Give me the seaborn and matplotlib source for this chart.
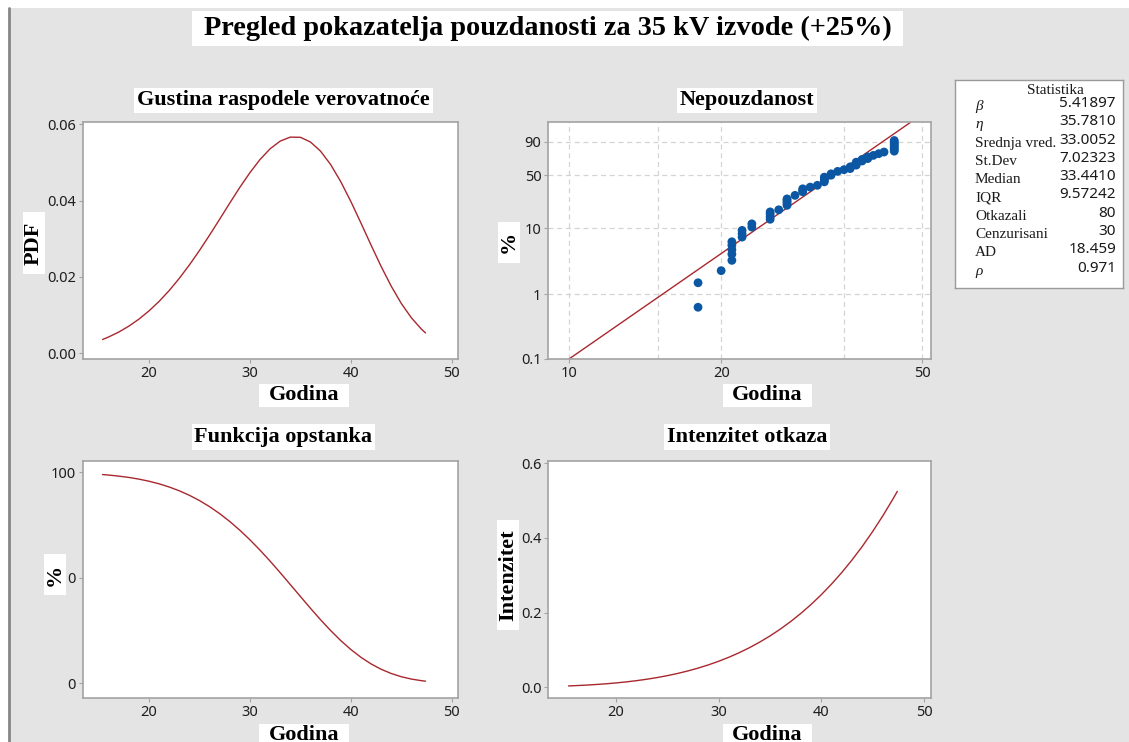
import functools

import numpy as np
import matplotlib
matplotlib.use("Agg")
import matplotlib.pyplot as plt
from matplotlib.path import Path
from matplotlib.lines import Line2D
from matplotlib.patches import Rectangle
from matplotlib.ticker import FixedLocator, NullFormatter, NullLocator
import seaborn as sns

# ---------------------------------------------------------------- data
fig_title = "Pregled pokazatelja pouzdanosti za 35 kV izvode (+25%)"
panel_titles = ["Gustina raspodele verovatnoće", "Nepouzdanost",
                "Funkcija opstanka", "Intenzitet otkaza"]
x_label = "Godina"
y_labels = ["PDF", "%", "%", "Intenzitet"]

# Weibull fit summary
stat_header = "Statistika"
stat_names = ["β", "η", "Srednja vred.", "St.Dev", "Median", "IQR",
              "Otkazali", "Cenzurisani", "AD", "ρ"]
stat_values = ["5.41897", "35.7810", "33.0052", "7.02323", "33.4410",
               "9.57242", "80", "30", "18.459", "0.971"]

# fitted curves (age in years)
years = [15.4, 16, 17, 18, 19, 20, 21, 22, 23, 24, 25, 26, 27, 28, 29, 30,
         31, 32, 33, 34, 35, 36, 37, 38, 39, 40, 41, 42, 43, 44, 45, 46, 47,
         47.4]
pdf_vals = [0.00361, 0.00427, 0.00555, 0.00710, 0.00894, 0.01110, 0.01359,
            0.01643, 0.01962, 0.02313, 0.02692, 0.03094, 0.03511, 0.03933,
            0.04345, 0.04731, 0.05075, 0.05356, 0.05557, 0.05662, 0.05657,
            0.05534, 0.05294, 0.04943, 0.04496, 0.03977, 0.03413, 0.02836,
            0.02276, 0.01759, 0.01305, 0.00929, 0.00631, 0.00533]
survival_pct = [98.97, 98.73, 98.24, 97.61, 96.81, 95.81, 94.58, 93.08,
                91.28, 89.15, 86.65, 83.76, 80.46, 76.73, 72.59, 68.05,
                63.14, 57.93, 52.46, 46.84, 41.19, 35.57, 30.15, 25.01,
                20.28, 16.04, 12.34, 9.22, 6.67, 4.66, 3.13, 2.02, 1.25, 1.02]
hazard_vals = [0.00365, 0.00432, 0.00565, 0.00728, 0.00924, 0.01159,
               0.01437, 0.01765, 0.02149, 0.02594, 0.03107, 0.03694,
               0.04363, 0.05125, 0.05985, 0.06952, 0.08037, 0.09245,
               0.10593, 0.12089, 0.13735, 0.15559, 0.17561, 0.19761,
               0.22167, 0.24789, 0.27650, 0.30757, 0.34120, 0.37769,
               0.41722, 0.45958, 0.50538, 0.52471]

# failures on Weibull probability paper
fail_years = [18, 18, 20, 21, 21, 21, 21, 21, 22, 22, 22, 23, 23,
              25, 25, 25, 25, 26, 27, 27, 27, 27, 27, 28, 29, 29, 29, 30,
              31, 32, 32, 32, 32, 33, 33, 34, 35, 36, 36, 37, 37, 37,
              38, 38, 39, 39, 40, 41, 42,
              44, 44, 44, 44, 44, 44, 44, 44]
fail_pct = [0.63, 1.5, 2.3, 3.3, 4.1, 4.8, 5.6, 6.3, 7.4, 8.3, 9.3, 10.4, 11.6,
            13.5, 14.7, 16.0, 17.2, 18.4, 21.2, 22.4, 23.6, 24.8, 25.9, 28.8,
            32.0, 33.4, 34.9, 36.6, 38.5, 42.3, 44.2, 46.0, 47.8, 50.2, 51.9,
            55.0, 57.2, 58.6, 60.9, 63.1, 65.0, 67.0, 68.5, 70.5, 71.6, 73.8,
            75.6, 77.7, 79.6,
            80.6, 82.3, 84.0, 85.6, 87.1, 88.5, 89.8, 90.9]
fit_years = [10.0, 47.4]
fit_pct = [0.1, 98.98]

# axis ticks
age_ticks = [20, 30, 40, 50]
pdf_ticks = [0.00, 0.02, 0.04, 0.06]
pdf_tick_labels = ["0.00", "0.02", "0.04", "0.06"]
surv_ticks = [0, 50, 100]
surv_tick_labels = ["0", "0", "100"]
hazard_ticks = [0.0, 0.2, 0.4, 0.6]
hazard_tick_labels = ["0.0", "0.2", "0.4", "0.6"]
prob_x_ticks = [10, 20, 50]
prob_x_minor = [15, 35]
prob_y_ticks = [0.1, 1, 10, 50, 90]
prob_y_tick_labels = ["0.1", "1", "10", "50", "90"]

# ---------------------------------------------------------------- style
sns.set_theme(style="white")
plt.rcParams["font.family"] = ["Noto Sans", "DejaVu Sans"]
plt.rcParams["axes.unicode_minus"] = False

BG = "#e4e4e4"
CURVE = "#a8282e"
DOTS = "#0b57a4"
SPINE = "#a3a3a3"
TICK_TXT = "#1e1e1e"
SERIF = ["Liberation Serif", "DejaVu Serif"]


def wide_box(x0, y0, width, height, mutation_size, padx=0.45, pady=0.08):
    """Rectangle with more room along the text than across it."""
    px, py = padx * mutation_size, pady * mutation_size
    x0, y0 = x0 - px, y0 - py
    x1, y1 = x0 + width + 2 * px, y0 + height + 2 * py
    return Path([(x0, y0), (x1, y0), (x1, y1), (x0, y1), (x0, y0)],
                closed=True)


label_box = dict(boxstyle=functools.partial(wide_box, padx=0.42, pady=0.06),
                 facecolor="white", edgecolor="none")
title_box = dict(boxstyle="square,pad=0.12", facecolor="white",
                 edgecolor="none")

W, H = 1129, 742
fig = plt.figure(figsize=(W / 100, H / 100), dpi=100, facecolor="white")

# grey panel background with a darker left border
fig.add_artist(Rectangle((10 / W, 0), 1 - 10 / W, 1 - 8 / H,
                         transform=fig.transFigure, facecolor=BG,
                         edgecolor="none", zorder=-10))
fig.add_artist(Line2D([9 / W, 9 / W], [0, 1 - 8 / H],
                      transform=fig.transFigure, color="#868686", lw=2,
                      zorder=-9))


def px_axes(left, top, right, bottom):
    return fig.add_axes([left / W, 1 - bottom / H, (right - left) / W,
                         (bottom - top) / H])


ax_pdf = px_axes(82.7, 122.3, 458.3, 359.0)
ax_cdf = px_axes(548.3, 122.3, 930.7, 359.0)
ax_sur = px_axes(82.7, 461.0, 458.3, 698.3)
ax_haz = px_axes(548.3, 461.0, 930.7, 698.3)
axes = [ax_pdf, ax_cdf, ax_sur, ax_haz]

# ---------------------------------------------------------------- curves
sns.lineplot(x=years, y=pdf_vals, ax=ax_pdf, color=CURVE, lw=1.0)
sns.lineplot(x=years, y=survival_pct, ax=ax_sur, color=CURVE, lw=1.0)
sns.lineplot(x=years, y=hazard_vals, ax=ax_haz, color=CURVE, lw=1.0)

for ax in (ax_pdf, ax_sur, ax_haz):
    ax.set_xlim(13.43, 50.65)
    ax.set_xticks(age_ticks)
    ax.set_xticklabels([str(t) for t in age_ticks])

ax_pdf.set_ylim(-0.0015, 0.0605)
ax_pdf.set_yticks(pdf_ticks)
ax_pdf.set_yticklabels(pdf_tick_labels)

ax_sur.set_ylim(-7.1, 105.4)
ax_sur.set_yticks(surv_ticks)
ax_sur.set_yticklabels(surv_tick_labels)

ax_haz.set_ylim(-0.0295, 0.606)
ax_haz.set_yticks(hazard_ticks)
ax_haz.set_yticklabels(hazard_tick_labels)


# ---------------------------------------------------------------- probability plot
def weibull_fwd(p):
    p = np.clip(np.asarray(p, dtype=float), 1e-6, 99.99999)
    return np.log(-np.log1p(-p / 100.0))


def weibull_inv(w):
    return 100.0 * (-np.expm1(-np.exp(np.asarray(w, dtype=float))))


ax_cdf.set_xscale("log")
ax_cdf.set_yscale("function", functions=(weibull_fwd, weibull_inv))
sns.lineplot(x=fit_years, y=fit_pct, ax=ax_cdf, color=CURVE, lw=1.0,
             zorder=2)
sns.scatterplot(x=fail_years, y=fail_pct, ax=ax_cdf, color=DOTS, s=40,
                edgecolor="none", linewidth=0, zorder=3)
ax_cdf.set_xlim(9.1, 51.95)
ax_cdf.set_ylim(0.1, 98.98)
ax_cdf.xaxis.set_major_locator(FixedLocator(prob_x_ticks))
ax_cdf.set_xticklabels([str(t) for t in prob_x_ticks])
ax_cdf.xaxis.set_minor_locator(FixedLocator(prob_x_minor))
ax_cdf.xaxis.set_minor_formatter(NullFormatter())
ax_cdf.yaxis.set_major_locator(FixedLocator(prob_y_ticks))
ax_cdf.set_yticklabels(prob_y_tick_labels)
ax_cdf.yaxis.set_minor_locator(NullLocator())
grid_kw = dict(color="#d4d4d4", lw=0.9, linestyle=(0, (4, 3)))
ax_cdf.grid(True, which="both", axis="x", **grid_kw)
ax_cdf.grid(True, which="major", axis="y", **grid_kw)
ax_cdf.tick_params(axis="x", which="minor", length=0)
ax_cdf.set_axisbelow(True)

# ---------------------------------------------------------------- common axes styling
title_xy = [(0.5346, 1.093), (0.5196, 1.093), (0.5346, 1.101), (0.5196, 1.101)]
xlabel_xy = [(0.589, -0.154), (0.573, -0.154), (0.589, -0.156), (0.573, -0.156)]
ylabel_xy = [(-0.1297, 0.490), (-0.1028, 0.494), (-0.0737, 0.520),
             (-0.1054, 0.520)]

for ax, ttl, ylab, txy, xxy, yxy in zip(axes, panel_titles, y_labels,
                                        title_xy, xlabel_xy, ylabel_xy):
    ax.set_facecolor("white")
    for sp in ax.spines.values():
        sp.set_visible(True)
        sp.set_color(SPINE)
        sp.set_linewidth(1.2)
    ax.tick_params(axis="both", which="major", direction="out", length=3,
                   width=0.8, color=SPINE, labelsize=10.5,
                   labelcolor=TICK_TXT, pad=2, bottom=True, left=True)

    ax.set_title(ttl, x=txy[0], y=txy[1], pad=0, va="center",
                 fontfamily=SERIF, fontweight="bold", fontsize=16,
                 color="black", bbox=title_box)

    ax.set_xlabel(x_label, fontfamily=SERIF, fontweight="bold", fontsize=16,
                  color="black", bbox=label_box)
    ax.xaxis.set_label_coords(*xxy)
    ax.xaxis.label.set_va("center")

    ax.set_ylabel(ylab, fontfamily=SERIF, fontweight="bold", fontsize=16,
                  color="black", bbox=label_box)
    ax.yaxis.set_label_coords(*yxy)
    ax.yaxis.label.set_va("center")
    ax.yaxis.label.set_ha("center")

# ---------------------------------------------------------------- main title
fig.text(547.5 / W, 1 - 28.5 / H, fig_title, ha="center", va="center",
         fontfamily=SERIF, fontweight="bold", fontsize=20.3, color="black",
         bbox=dict(boxstyle=functools.partial(wide_box, padx=0.42, pady=0.16),
                   facecolor="white", edgecolor="none"))

# ---------------------------------------------------------------- statistics box
ax_st = px_axes(955, 80, 1123, 288)
ax_st.set_facecolor("white")
ax_st.set_xticks([])
ax_st.set_yticks([])
ax_st.set_xlim(0, 168)
ax_st.set_ylim(208, 0)
for sp in ax_st.spines.values():
    sp.set_visible(True)
    sp.set_color("#9a9a9a")
    sp.set_linewidth(1.0)

ax_st.text(100, 10, stat_header, ha="center", va="center", fontsize=11,
           fontfamily=SERIF, color="#1a1a1a")
row_step = 18.3
for i, (name, val) in enumerate(zip(stat_names, stat_values)):
    y = 26.5 + i * row_step
    greek = name in ("β", "η", "ρ")
    ax_st.text(20, y, name, ha="left", va="center", fontsize=11,
               fontfamily=SERIF, fontstyle="italic" if greek else "normal",
               color="#1a1a1a")
    ax_st.text(161, y - 3, val, ha="right", va="center", fontsize=11,
               fontfamily=["Noto Sans", "DejaVu Sans"], color="#1a1a1a")

fig.savefig("out.png", dpi=100, facecolor="white")
